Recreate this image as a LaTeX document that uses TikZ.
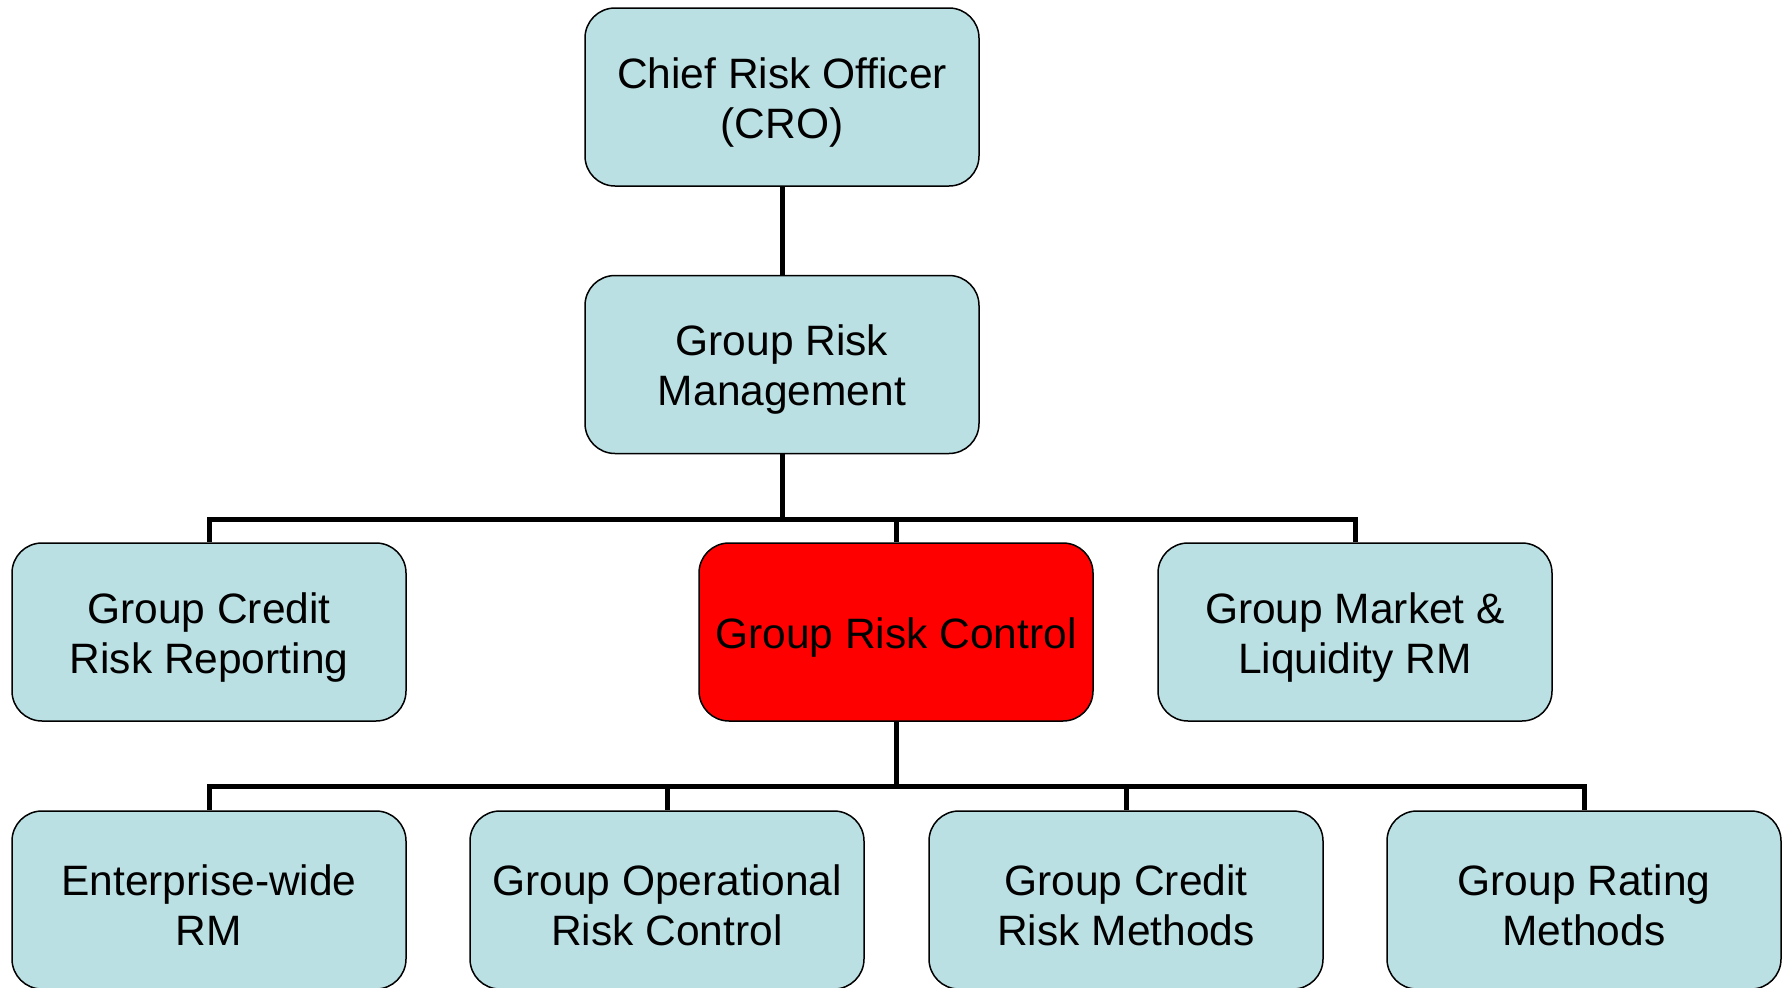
\documentclass[tikz,border=0pt]{standalone}
\usepackage{fontspec}
\setmainfont{Liberation Sans}
\definecolor{boxblue}{HTML}{BBE0E3}
\definecolor{boxred}{HTML}{FF0000}
\newcommand{\toppad}{\rule{0pt}{41pt}}
\begin{document}
\begin{tikzpicture}[x=1pt,y=-1pt,
  orgbox/.style={draw=black, line width=1.5pt, fill=boxblue, rounded corners=30pt,
    minimum width=394pt, minimum height=178pt, inner sep=0pt, align=center,
    font=\fontsize{42.5}{50}\selectfont},
  hotbox/.style={orgbox, fill=boxred},
  link/.style={draw=black, line width=5pt}]
\useasboundingbox (0,0) rectangle (1786,988);
\node[orgbox] (cro) at (782,97) {\toppad Chief Risk Officer\\(CRO)};
\node[orgbox] (grm) at (782,364.5) {\toppad Group Risk\\Management};
\node[orgbox] (gcrr) at (209,632) {\toppad Group Credit\\Risk Reporting};
\node[hotbox] (grc) at (896,632) {\toppad Group Risk Control};
\node[orgbox] (gml) at (1355,632) {\toppad Group Market \&\\Liquidity RM};
\node[orgbox] (erm) at (209,900) {\toppad Enterprise-wide\\RM};
\node[orgbox] (gorc) at (667,900) {\toppad Group Operational\\Risk Control};
\node[orgbox] (gcrm) at (1126,900) {\toppad Group Credit\\Risk Methods};
\node[orgbox] (grmth) at (1584,900) {\toppad Group Rating\\Methods};
\coordinate (bus1) at (782,519);
\coordinate (bus2) at (896,786);
\path[link] (cro.south) -- (grm.north);
\path[link] (grm.south) -- (bus1);
\path[link] (bus1) -| (gcrr.north);
\path[link] (bus1) -| (grc.north);
\path[link] (bus1) -| (gml.north);
\path[link] (grc.south) -- (bus2);
\path[link] (bus2) -| (erm.north);
\path[link] (bus2) -| (gorc.north);
\path[link] (bus2) -| (gcrm.north);
\path[link] (bus2) -| (grmth.north);
\end{tikzpicture}
\end{document}
